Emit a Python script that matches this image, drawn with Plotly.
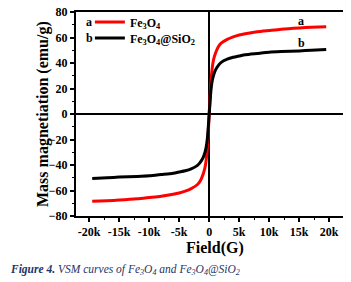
import plotly.graph_objects as go

field = [-19500, -17000, -15000, -12000, -10000, -8000, -6000, -5000, -4000, -3000, -2000,
         -1500, -1000, -700, -500, -300, -150, 0, 150, 300, 500, 700, 1000, 1500, 2000,
         3000, 4000, 5000, 6000, 8000, 10000, 12000, 15000, 17000, 19500]
fe3o4 = [-68.5, -68, -67.5, -66.5, -65.5, -64.5, -63, -62, -60.5, -58.5, -55.5,
         -52.5, -47, -42, -36, -26, -14, 0, 14, 26, 36, 42, 47, 52.5, 55.5,
         58.5, 60.5, 62, 63, 64.5, 65.5, 66.5, 67.5, 68, 68.5]
fe3o4_sio2 = [-50.5, -50, -49.5, -49, -48.5, -47.5, -46.5, -45.5, -44.5, -43, -40.5,
              -38, -34, -30, -26, -19, -10, 0, 10, 19, 26, 30, 34, 38, 40.5,
              43, 44.5, 45.5, 46.5, 47.5, 48.5, 49, 49.5, 50, 50.5]
x_ticks = [-20000, -15000, -10000, -5000, 0, 5000, 10000, 15000, 20000]
x_labels = ["-20k", "-15k", "-10k", "-5k", "0", "5k", "10k", "15k", "20k"]
y_ticks = [-80, -60, -40, -20, 0, 20, 40, 60, 80]

FONT = "Liberation Serif, Times New Roman, serif"

# page body has an 8px default margin, so the figure is offset by (8, 8) in the window
ML, MT = 68, 4
PW, PH = 267, 204

fig = go.Figure()
fig.add_trace(go.Scatter(x=field, y=fe3o4, mode="lines", name="Fe<sub>3</sub>O<sub>4</sub>",
                         legend="legend",
                         line=dict(color="#ff0000", width=3, shape="spline", smoothing=0.6)))
fig.add_trace(go.Scatter(x=field, y=fe3o4_sio2, mode="lines", name="Fe<sub>3</sub>O<sub>4</sub>@SiO<sub>2</sub>",
                         legend="legend2",
                         line=dict(color="#000000", width=3, shape="spline", smoothing=0.6)))

axis_common = dict(showline=True, linecolor="black", linewidth=2, mirror=True,
                   showgrid=False, zeroline=True, zerolinecolor="black", zerolinewidth=2,
                   ticks="outside", ticklen=4, tickwidth=1.5, tickcolor="black",
                   automargin=False, ticklabeloverflow="allow",
                   tickfont=dict(family=FONT, size=12, color="black", weight="bold"))

leg_common = dict(xanchor="left", yanchor="middle", bgcolor="rgba(0,0,0,0)", borderwidth=0,
                  itemwidth=30, font=dict(family=FONT, size=12, color="black", weight="bold"))

fig.update_layout(
    width=351, height=282,
    margin=dict(l=ML, r=351 - ML - PW, t=MT, b=282 - MT - PH, autoexpand=False),
    paper_bgcolor="white", plot_bgcolor="white",
    font=dict(family=FONT, color="black"),
    showlegend=True,
    legend=dict(x=0.052, y=0.951, **leg_common),
    legend2=dict(x=0.052, y=0.873, **leg_common),
)
fig.update_xaxes(range=[-22200, 22300], tickvals=x_ticks, ticktext=x_labels,
                 minor=dict(ticks="outside", ticklen=2, tickwidth=1, tickcolor="black", dtick=2500),
                 **axis_common)
fig.update_yaxes(range=[-80, 80], tickvals=y_ticks,
                 minor=dict(ticks="outside", ticklen=2, tickwidth=1, tickcolor="black", dtick=10),
                 **axis_common)

# axis titles
fig.add_annotation(xref="paper", yref="paper", x=0.52, y=-32 / PH, text="<b>Field(G)</b>",
                   showarrow=False, xanchor="center", yanchor="middle",
                   font=dict(family=FONT, size=16, color="black"))
fig.add_annotation(xref="paper", yref="paper", x=-33 / PW, y=0.5, text="<b>Mass magnetiation (emu/g)</b>",
                   showarrow=False, xanchor="center", yanchor="middle", textangle=-90,
                   font=dict(family=FONT, size=16, color="black"))

# curve labels
fig.add_annotation(x=15300, y=72.9, text="<b>a</b>", showarrow=False,
                   font=dict(family=FONT, size=12, color="black"))
fig.add_annotation(x=15300, y=55.7, text="<b>b</b>", showarrow=False,
                   font=dict(family=FONT, size=12, color="black"))
# legend letters
fig.add_annotation(xref="paper", yref="paper", x=0.049, y=0.951, text="<b>a</b>", showarrow=False,
                   xanchor="center", yanchor="middle", font=dict(family=FONT, size=12, color="black"))
fig.add_annotation(xref="paper", yref="paper", x=0.049, y=0.873, text="<b>b</b>", showarrow=False,
                   xanchor="center", yanchor="middle", font=dict(family=FONT, size=12, color="black"))
# caption
fig.add_annotation(xref="paper", yref="paper", x=-ML / PW, y=-54 / PH, xanchor="left", yanchor="middle",
                   text="<b><i>Figure 4.</i></b><i> VSM curves of Fe<sub>3</sub>O<sub>4</sub> and Fe<sub>3</sub>O<sub>4</sub>@SiO<sub>2</sub></i>",
                   showarrow=False, font=dict(family=FONT, size=11.5, color="#1c3466"))

fig.write_html("out.html")
